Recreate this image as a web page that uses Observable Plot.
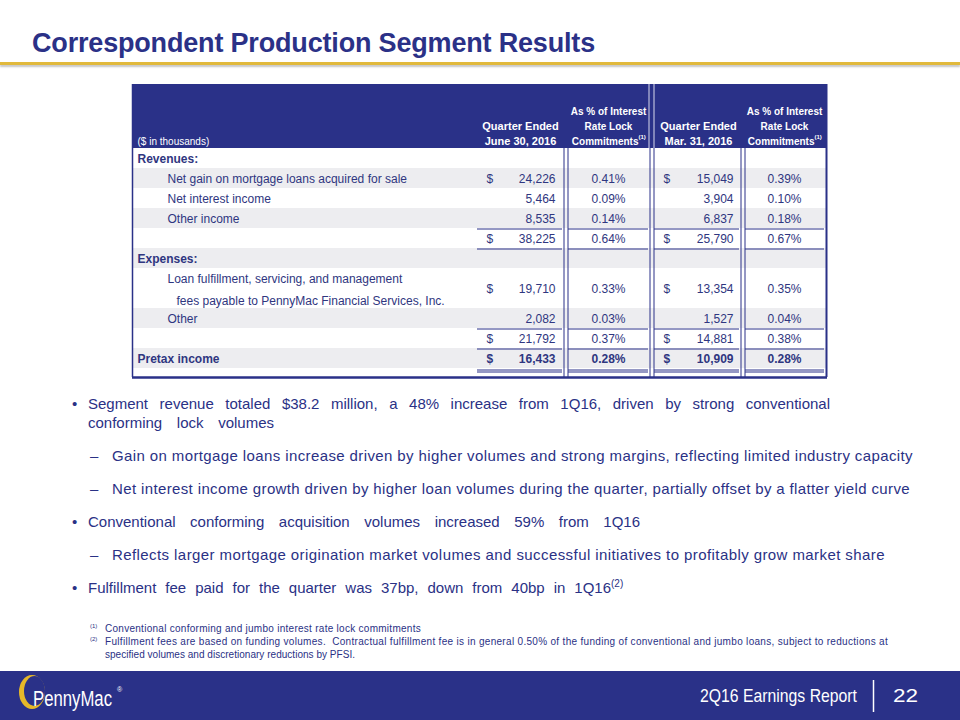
<!DOCTYPE html>
<html>
<head>
<meta charset="utf-8">
<script src="https://cdn.jsdelivr.net/npm/d3@7"></script>
<script src="https://cdn.jsdelivr.net/npm/@observablehq/plot@0.6"></script>
<style>
html, body { margin:0; padding:0; background:#fff; }
#page { position:relative; width:960px; height:720px; overflow:hidden; font-family:"Liberation Sans", Arial, sans-serif; }
.abs { position:absolute; white-space:nowrap; }
#title { left:32px; top:30px; font-size:27px; line-height:27px; font-weight:bold; color:#2b3187; }
#gold { position:absolute; left:0; top:62px; width:960px; height:3px; background:#e1b93c; box-shadow:0 2px 2px rgba(90,90,90,0.35); }
#table { position:absolute; left:0; top:84px; }
.b { font-size:15px; line-height:15px; color:#2a3185; }
.fn { font-size:10px; line-height:10px; color:#2a3185; }
.fs { font-size:6px; line-height:6px; color:#2a3185; }
#footer { position:absolute; left:0; top:671px; width:960px; height:49px; background:#2a3188; }
.ft { color:#fff; transform-origin:0 0; }
#table svg g[aria-label="numbers"] text, #table svg g[aria-label="numbers-bold"] text { letter-spacing:1px; }
#table svg g[aria-label="labels"] text { letter-spacing:0.4px; }
#table svg g[aria-label="labels-bold"] text { letter-spacing:0.8px; }
</style>
</head>
<body>
<div id="page">
  <div class="abs fitl" id="title" data-w="563">Correspondent Production Segment Results</div>
  <div id="gold"></div>
  <div id="table"></div>

  <div class="abs b" style="left:72px;top:396px">•</div>
  <div class="abs b fitw" data-w="742" style="left:88px;top:396px">Segment revenue totaled $38.2 million, a 48% increase from 1Q16, driven by strong conventional</div>
  <div class="abs b fitw" data-w="186" style="left:88px;top:415px">conforming lock volumes</div>

  <div class="abs b" style="left:90px;top:448px">–</div>
  <div class="abs b fitl" data-w="801" style="left:112px;top:448px">Gain on mortgage loans increase driven by higher volumes and strong margins, reflecting limited industry capacity</div>

  <div class="abs b" style="left:90px;top:481px">–</div>
  <div class="abs b fitl" data-w="798" style="left:112px;top:481px">Net interest income growth driven by higher loan volumes during the quarter, partially offset by a flatter yield curve</div>

  <div class="abs b" style="left:72px;top:514px">•</div>
  <div class="abs b fitw" data-w="552" style="left:88px;top:514px">Conventional conforming acquisition volumes increased 59% from 1Q16</div>

  <div class="abs b" style="left:90px;top:547px">–</div>
  <div class="abs b fitl" data-w="773" style="left:112px;top:547px">Reflects larger mortgage origination market volumes and successful initiatives to profitably grow market share</div>

  <div class="abs b" style="left:72px;top:580px">•</div>
  <div class="abs b" style="left:88px;top:580px"><span class="fitw" data-w="523">Fulfillment fee paid for the quarter was 37bp, down from 40bp in 1Q16</span><span style="font-size:10px;position:relative;top:-6px">(2)</span></div>

  <div class="abs fs" style="left:90px;top:623px">(1)</div>
  <div class="abs fn fitl" data-w="316" style="left:105px;top:623.5px">Conventional conforming and jumbo interest rate lock commitments</div>
  <div class="abs fs" style="left:90px;top:636px">(2)</div>
  <div class="abs fn fitl" data-w="783" style="left:105px;top:636.5px">Fulfillment fees are based on funding volumes.&nbsp; Contractual fulfillment fee is in general 0.50% of the funding of conventional and jumbo loans, subject to reductions at</div>
  <div class="abs fn fitl" data-w="250" style="left:105px;top:649.5px">specified volumes and discretionary reductions by PFSI.</div>

  <div id="footer"></div>
  <svg class="abs" style="left:0;top:671px" width="960" height="49">
    <ellipse cx="32" cy="21" rx="13" ry="17" fill="#e6b829"/>
    <ellipse cx="34.5" cy="20" rx="10.5" ry="15" fill="#2a3188"/>
    <line x1="873.5" x2="873.5" y1="9" y2="41" stroke="#fff" stroke-width="1.5"/>
  </svg>
  <div class="abs ft fitx" data-w="79" style="left:33px;top:688px;font-size:22px;line-height:22px">PennyMac</div>
  <div class="abs ft" style="left:117px;top:686px;font-size:7px;line-height:7px">®</div>
  <div class="abs ft fitx" data-w="157" style="left:700px;top:686px;font-size:19px;line-height:19px">2Q16 Earnings Report</div>
  <div class="abs ft fitx" data-w="25" style="left:893px;top:686px;font-size:19px;line-height:19px">22</div>
</div>
<script>
// ---------- table data ----------
const rowKeys    = ["revenues", "netGain", "netInterest", "otherIncome", "revenueTotal", "expenses", "fulfillmentFees", "otherExpense", "expenseTotal", "pretax"];
const rowLabels  = ["Revenues:", "Net gain on mortgage loans acquired for sale", "Net interest income", "Other income", "", "Expenses:", "Loan fulfillment, servicing, and management|fees payable to PennyMac Financial Services, Inc.", "Other", "", "Pretax income"];
const q2Values   = [null, 24226, 5464, 8535, 38225, null, 19710, 2082, 21792, 16433];
const q2Pct      = [null, 0.41, 0.09, 0.14, 0.64, null, 0.33, 0.03, 0.37, 0.28];
const q1Values   = [null, 15049, 3904, 6837, 25790, null, 13354, 1527, 14881, 10909];
const q1Pct      = [null, 0.39, 0.10, 0.18, 0.67, null, 0.35, 0.04, 0.38, 0.28];
const showDollar = [false, true, false, false, true, false, true, false, true, true];
const rowLevel   = [0, 1, 1, 1, 1, 0, 1, 1, 1, 0];
const rowLines   = [1, 1, 1, 1, 1, 1, 2, 1, 1, 1];
const rowShaded  = [false, true, false, true, false, true, false, true, false, true];
const rowBold    = [true, false, false, false, false, true, false, false, false, true];
const rowIsTotal = [false, false, false, false, true, false, false, false, true, false];
const headerQ2   = ["Quarter Ended", "June 30, 2016"];
const headerPct  = ["As % of Interest", "Rate Lock", "Commitments"];
const headerQ1   = ["Quarter Ended", "Mar. 31, 2016"];
const unitsNote  = "($ in thousands)";
const pctNote    = "(1)";

// ---------- layout ----------
const NAVY = "#2a3188", TXT = "#2f3680", SHADE = "#ededf0";
const C = {left:132, right:826, headTop:-3.2, label0:137, label1:167, label1b:176,
  d1:486, v1:555, p1:608, d2:663, v2:733, p2:784,
  hq2:520, hp2:608, hq1:698, hp1:784, noteShift:30,
  base:0.715, lineGap:1.1, headGap:0.73, headBase:-0.2, tableBottom:11.45};
const bodyV = [563, 567, 649, 653, 740, 744];
const headV = [648, 653];
const segs = [[477, 562], [568, 648], [654, 739], [745, 824]];

const fmtNum = d3.format(",");
const fmtPct = v => v.toFixed(2) + "%";

let acc = 0;
const rows = rowKeys.map((key, i) => {
  const r = {key, top: acc, span: rowLines[i], label: rowLabels[i], level: rowLevel[i], bold: rowBold[i],
    shaded: rowShaded[i], total: rowIsTotal[i], q2: q2Values[i], q2p: q2Pct[i], q1: q1Values[i], q1p: q1Pct[i], dollar: showDollar[i]};
  acc += rowLines[i];
  return r;
});
const bodyEnd = acc;

const labelLines = rows.flatMap(r => r.label.split("|").filter(s => s).map((t, j) => ({
  t, bold: r.bold,
  x: r.level === 0 ? C.label0 : (j === 0 ? C.label1 : C.label1b),
  y: r.top + C.base + j * C.lineGap
})));
const valueY = r => r.top + r.span / 2 + 0.215;
const cells = rows.filter(r => r.q2 != null).map(r => ({...r, vy: valueY(r)}));
const cellsReg = cells.filter(r => !r.bold), cellsBold = cells.filter(r => r.bold);
const dollars = cells.filter(r => r.dollar).flatMap(r => [{x: C.d1, y: r.vy, bold: r.bold}, {x: C.d2, y: r.vy, bold: r.bold}]);

const hRules = [];
rows.forEach(r => { if (r.total) hRules.push(r.top, r.top + r.span); });
hRules.push(bodyEnd + 0.05, bodyEnd + 0.15);
const hSegs = hRules.flatMap(y => segs.map(([x1, x2]) => ({y, x1, x2})));

const headerCols = [[C.hq2, headerQ2, 11], [C.hp2, headerPct, 10], [C.hq1, headerQ1, 11], [C.hp1, headerPct, 10]];
const headerText = headerCols.flatMap(([x, lines, size]) => lines.map((t, j) => ({
  x, t, size, y: C.headBase - (lines.length - 1 - j) * C.headGap
})));
const headBig = headerText.filter(d => d.size === 11);
const headSmall = headerText.filter(d => d.size === 10 && d.t !== "Commitments");
const headCommit = headerText.filter(d => d.t === "Commitments").map(d => ({...d, x: d.x + C.noteShift}));

const txt = (data, o) => Plot.text(data, {lineAnchor: "bottom", fill: TXT, fontSize: 12, ...o});

const chart = Plot.plot({
  width: 960, height: 295, margin: 0,
  x: {type: "identity", axis: null},
  y: {type: "linear", domain: [C.headTop, 11.55], range: [0, 295], axis: null},
  style: {fontFamily: "'Liberation Sans', Arial, sans-serif", background: "transparent", overflow: "visible"},
  marks: [
    Plot.rect([{}], {x1: () => C.left, x2: () => C.right, y1: () => C.headTop, y2: () => 0, fill: NAVY}),
    Plot.rect(rows.filter(r => r.shaded), {x1: () => C.left, x2: () => C.right, y1: r => r.top, y2: r => r.top + r.span, fill: SHADE}),
    Plot.ruleY(hSegs, {y: "y", x1: "x1", x2: "x2", stroke: NAVY, strokeWidth: 1, dy: 0.5}),
    Plot.ruleX(bodyV, {x: d => d, y1: () => 0, y2: () => C.tableBottom, stroke: NAVY, strokeWidth: 1, dx: 0.5}),
    Plot.ruleX(headV, {x: d => d, y1: () => C.headTop, y2: () => 0, stroke: "#d8daec", strokeWidth: 1, dx: 0.5}),
    Plot.ruleX([C.left], {x: d => d, y1: () => C.headTop, y2: () => C.tableBottom, stroke: NAVY, strokeWidth: 1.5}),
    Plot.ruleX([C.right], {x: d => d, y1: () => C.headTop, y2: () => C.tableBottom, stroke: NAVY, strokeWidth: 2}),
    Plot.ruleY([C.tableBottom], {y: d => d, x1: () => C.left, x2: () => C.right + 1, stroke: NAVY, strokeWidth: 2.5}),
    // header
    txt([unitsNote], {x: () => C.label0, y: () => C.headBase, text: d => d, fill: "#fff", fontSize: 10, textAnchor: "start"}),
    txt(headBig, {x: "x", y: "y", text: "t", fill: "#fff", fontSize: 11, fontWeight: "bold", textAnchor: "middle"}),
    txt(headSmall, {x: "x", y: "y", text: "t", fill: "#fff", fontSize: 10, fontWeight: "bold", textAnchor: "middle"}),
    txt(headCommit, {x: "x", y: "y", text: "t", fill: "#fff", fontSize: 10, fontWeight: "bold", textAnchor: "end"}),
    txt(headCommit, {x: "x", y: d => d.y - 0.3, text: () => pctNote, fill: "#fff", fontSize: 6, fontWeight: "bold", textAnchor: "start"}),
    // labels
    txt(labelLines.filter(d => !d.bold), {x: "x", y: "y", text: "t", textAnchor: "start", ariaLabel: "labels"}),
    txt(labelLines.filter(d => d.bold), {x: "x", y: "y", text: "t", textAnchor: "start", fontWeight: "bold", ariaLabel: "labels-bold"}),
    // dollar signs
    txt(dollars.filter(d => !d.bold), {x: "x", y: "y", text: () => "$", textAnchor: "start"}),
    txt(dollars.filter(d => d.bold), {x: "x", y: "y", text: () => "$", textAnchor: "start", fontWeight: "bold"}),
    // values
    txt(cellsReg, {x: () => C.v1, y: "vy", text: d => fmtNum(d.q2), textAnchor: "end", ariaLabel: "numbers"}),
    txt(cellsReg, {x: () => C.p1, y: "vy", text: d => fmtPct(d.q2p), textAnchor: "middle", ariaLabel: "numbers"}),
    txt(cellsReg, {x: () => C.v2, y: "vy", text: d => fmtNum(d.q1), textAnchor: "end", ariaLabel: "numbers"}),
    txt(cellsReg, {x: () => C.p2, y: "vy", text: d => fmtPct(d.q1p), textAnchor: "middle", ariaLabel: "numbers"}),
    txt(cellsBold, {x: () => C.v1, y: "vy", text: d => fmtNum(d.q2), textAnchor: "end", fontWeight: "bold", ariaLabel: "numbers-bold"}),
    txt(cellsBold, {x: () => C.p1, y: "vy", text: d => fmtPct(d.q2p), textAnchor: "middle", fontWeight: "bold", ariaLabel: "numbers-bold"}),
    txt(cellsBold, {x: () => C.v2, y: "vy", text: d => fmtNum(d.q1), textAnchor: "end", fontWeight: "bold", ariaLabel: "numbers-bold"}),
    txt(cellsBold, {x: () => C.p2, y: "vy", text: d => fmtPct(d.q1p), textAnchor: "middle", fontWeight: "bold", ariaLabel: "numbers-bold"})
  ]
});
document.getElementById("table").appendChild(chart);

// ---------- fit text widths ----------
document.querySelectorAll(".fitl").forEach(el => {
  const w = el.getBoundingClientRect().width;
  const n = el.textContent.length;
  el.style.letterSpacing = ((+el.dataset.w - w) / n) + "px";
});
document.querySelectorAll(".fitw").forEach(el => {
  const w = el.getBoundingClientRect().width;
  const n = (el.textContent.match(/ /g) || []).length;
  el.style.wordSpacing = ((+el.dataset.w - w) / n) + "px";
});
document.querySelectorAll(".fitx").forEach(el => {
  const w = el.getBoundingClientRect().width;
  el.style.transform = "scaleX(" + (+el.dataset.w / w) + ")";
});
</script>
</body>
</html>
